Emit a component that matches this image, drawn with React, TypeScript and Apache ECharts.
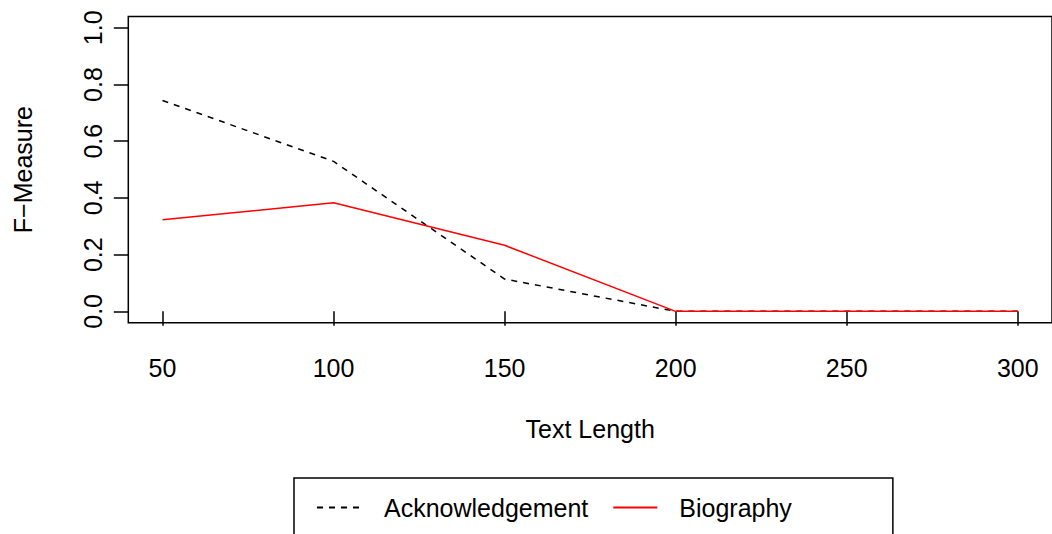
import React, { useEffect, useRef } from "react";
import * as echarts from "echarts";

const textLength = [50, 100, 150, 200, 250, 300];
const acknowledgement = [0.744, 0.529, 0.114, 0, 0, 0];
const biography = [0.323, 0.383, 0.233, 0, 0, 0];
const xTicks = [50, 100, 150, 200, 250, 300];
const yTicks = [0, 0.2, 0.4, 0.6, 0.8, 1.0];
const seriesNames = ["Acknowledgement", "Biography"];

const FONT = "Liberation Sans, Arial, Helvetica, sans-serif";
const FS = 25;

export default function App() {
  const ref = useRef<HTMLDivElement>(null);
  useEffect(() => {
    const chart = echarts.init(ref.current!, null, { renderer: "svg" });
    const option: any = {
      animation: false,
      backgroundColor: "#ffffff",
      textStyle: { fontFamily: FONT },
      grid: {
        show: true,
        left: 128.3,
        top: 16.5,
        width: 928,
        height: 306.2,
        borderColor: "#000",
        borderWidth: 1.5,
        backgroundColor: "transparent",
      },
      xAxis: {
        type: "value",
        min: 40,
        max: 310,
        name: "Text Length",
        nameLocation: "middle",
        nameGap: 94,
        nameTextStyle: { color: "#000", fontSize: FS, fontFamily: FONT },
        axisLine: { show: false },
        splitLine: { show: false },
        axisTick: {
          show: true,
          length: 14.5,
          customValues: xTicks,
          lineStyle: { color: "#000", width: 1.5 },
        },
        axisLabel: {
          customValues: xTicks,
          margin: 33,
          color: "#000",
          fontSize: FS,
          fontFamily: FONT,
        },
      },
      yAxis: {
        type: "value",
        min: -0.04,
        max: 1.04,
        name: "F\u2212Measure",
        nameLocation: "middle",
        nameGap: 93,
        nameTextStyle: { color: "#000", fontSize: FS, fontFamily: FONT },
        axisLine: { show: false },
        splitLine: { show: false },
        axisTick: {
          show: true,
          length: 14.5,
          customValues: yTicks,
          lineStyle: { color: "#000", width: 1.5 },
        },
        axisLabel: {
          customValues: yTicks,
          rotate: 90,
          margin: 23,
          color: "#000",
          fontSize: FS,
          fontFamily: FONT,
          formatter: (v: number) => v.toFixed(1),
        },
      },
      legend: {
        left: 294,
        top: 478,
        orient: "horizontal",
        padding: [17, 101, 40, 22],
        itemGap: 24,
        itemWidth: 44,
        itemHeight: 25,
        borderColor: "#000",
        borderWidth: 1.5,
        backgroundColor: "#fff",
        itemStyle: { opacity: 0, color: "rgba(0,0,0,0)", borderWidth: 0 },
        formatter: (name: string) =>
          (name === seriesNames[0] ? "{a|" : "{b|") + name + "}",
        textStyle: {
          color: "#000",
          fontSize: FS,
          fontFamily: FONT,
          rich: {
            a: { fontSize: FS, fontFamily: FONT, color: "#000", padding: [0, 0, 0, 18] },
            b: { fontSize: FS, fontFamily: FONT, color: "#000", padding: [0, 0, 0, 17] },
          },
        },
        data: seriesNames,
      },
      series: [
        {
          name: seriesNames[0],
          type: "line",
          symbol: "none",
          data: textLength.map((x, i) => [x, acknowledgement[i]]),
          lineStyle: { color: "#000", width: 1.5, type: [6, 6] },
          itemStyle: { color: "#000" },
        },
        {
          name: seriesNames[1],
          type: "line",
          symbol: "none",
          data: textLength.map((x, i) => [x, biography[i]]),
          lineStyle: { color: "#ff0000", width: 1.5 },
          itemStyle: { color: "#ff0000" },
        },
      ],
    };
    chart.setOption(option);
    return () => chart.dispose();
  }, []);
  return (
    <div
      ref={ref}
      style={{ position: "fixed", left: 0, top: 0, width: 1052, height: 534 }}
    />
  );
}
